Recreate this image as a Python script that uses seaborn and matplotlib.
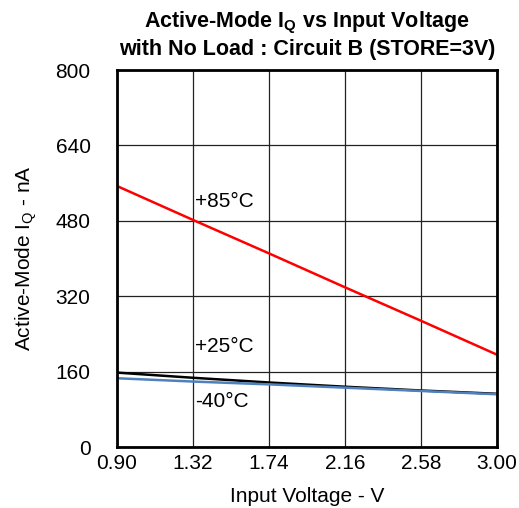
import matplotlib
matplotlib.use('Agg')
import matplotlib.pyplot as plt
import seaborn as sns
import pandas as pd

# data
voltage = [0.90, 1.32, 1.74, 2.16, 2.58, 3.00]
iq_85c = [554, 482, 411, 339, 268, 196]
iq_25c = [158, 147, 137, 128, 120, 113]
iq_m40c = [146, 139, 133, 126, 119, 112]
x_ticks = [0.90, 1.32, 1.74, 2.16, 2.58, 3.00]
y_ticks = [0, 160, 320, 480, 640, 800]

sns.set_style('white')
plt.rcParams['font.family'] = ['Liberation Sans', 'DejaVu Sans']
plt.rcParams['mathtext.fontset'] = 'custom'
plt.rcParams['mathtext.rm'] = 'Liberation Sans'
plt.rcParams['mathtext.bf'] = 'Liberation Sans:bold'
plt.rcParams['text.color'] = 'black'
plt.rcParams['axes.labelcolor'] = 'black'
plt.rcParams['xtick.color'] = 'black'
plt.rcParams['ytick.color'] = 'black'

df = pd.DataFrame({
    'Voltage': voltage * 3,
    'IQ': iq_85c + iq_25c + iq_m40c,
    'Temp': ['+85°C'] * 6 + ['+25°C'] * 6 + ['-40°C'] * 6,
})

fig = plt.figure(figsize=(5.19, 5.08), dpi=100)
ax = fig.add_axes([0.2254, 0.120, 0.7322, 0.742])

sns.lineplot(data=df, x='Voltage', y='IQ', hue='Temp',
             palette={'+85°C': '#ff0000', '+25°C': '#000000', '-40°C': '#4f81bd'},
             linewidth=1.8, legend=False, ax=ax)

ax.set_xlim(0.90, 3.00)
ax.set_ylim(0, 800)
ax.set_xticks(x_ticks)
ax.set_xticklabels([f'{v:.2f}' for v in x_ticks], fontsize=15)
ax.set_yticks(y_ticks)
ax.set_yticklabels([str(v) for v in y_ticks], fontsize=15)
ax.tick_params(axis='x', length=0, pad=5)
ax.tick_params(axis='y', length=0, pad=19)
ax.grid(True, color='#222222', linewidth=0.9)
for s in ax.spines.values():
    s.set_color('black')
    s.set_linewidth(2)

ax.set_xlabel('Input Voltage - V', fontsize=15, labelpad=10)
ax.set_ylabel(r'Active-Mode $\mathrm{I_Q}$ - nA', fontsize=15, labelpad=12)
ax.set_title('Active-Mode $\\mathbf{I_Q}$ vs Input Voltage\nwith No Load : Circuit B (STORE=3V)',
             fontsize=15.5, fontweight='bold', pad=11)

ax.text(1.33, 522, '+85°C', fontsize=15, ha='left', va='center')
ax.text(1.33, 213, '+25°C', fontsize=15, ha='left', va='center')
ax.text(1.33, 96, '-40°C', fontsize=15, ha='left', va='center')

fig.savefig('out.png', dpi=100)
